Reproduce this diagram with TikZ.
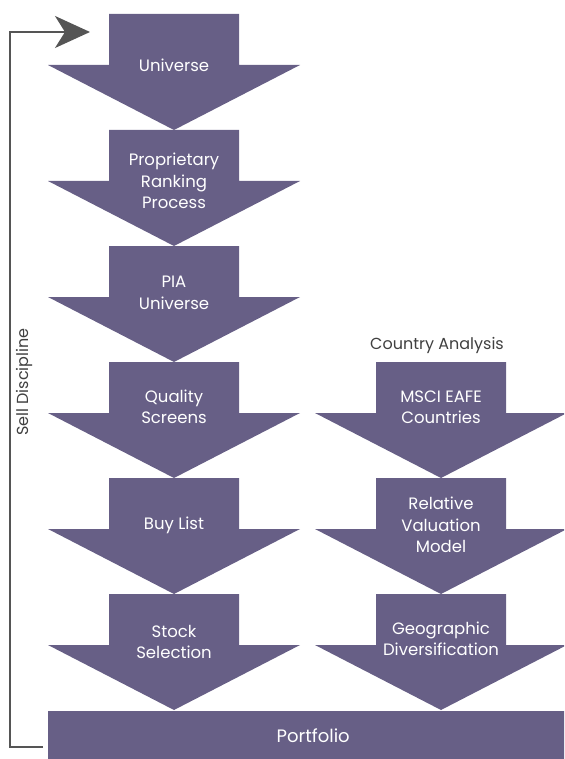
\documentclass[tikz,border=0pt]{standalone}
\usepackage{fontspec}
\setmainfont{Poppins}
\usetikzlibrary{arrows.meta}
\definecolor{flowfill}{HTML}{675F86}
\definecolor{sellgray}{HTML}{555555}
\definecolor{labelgray}{HTML}{404040}
\tikzset{
    flowarrow/.style={fill=flowfill, draw=none},
    flowtext/.style={text=white, align=center, font=\fontsize{16.5}{21.5}\selectfont},
    sellline/.style={draw=sellgray, line width=2, -{Stealth[length=35pt, width=32pt, inset=10pt]}},
    sidetext/.style={text=labelgray, font=\fontsize{16}{18}\selectfont}
}

\begin{document}
\begin{tikzpicture}[x=1pt, y=-1pt]
        \useasboundingbox (0, 0) rectangle (564, 759);
        \clip (0, 0) rectangle (564, 759);

        % stock column, centre line x = 174
        \foreach \t/\ty/\lbl [count=\i] in {14/51/Universe,
                130/51/{Proprietary\\Ranking\\Process},
                246/47/{PIA\\Universe},
                362/45/{Quality\\Screens},
                478/47/{Buy List},
                594/48/{Stock\\Selection}}{
            \fill[flowarrow] (174-65, \t) -- (174+65, \t)
            -- (174+65, \t+51) -- (174+126, \t+51)
            -- (174, \t+116)
            -- (174-126, \t+51) -- (174-65, \t+51) -- cycle;
            \node (left\i) [flowtext] at (174, \t+\ty) {\lbl};
        }

        % country column, centre line x = 441
        \foreach \t/\ty/\lbl [count=\i] in {362/45/{MSCI EAFE\\Countries},
                478/47/{Relative\\Valuation\\Model},
                594/45/{Geographic\\Diversification}}{
            \fill[flowarrow] (441-65, \t) -- (441+65, \t)
            -- (441+65, \t+51) -- (441+126, \t+51)
            -- (441, \t+116)
            -- (441-126, \t+51) -- (441-65, \t+51) -- cycle;
            \node (right\i) [flowtext] at (441, \t+\ty) {\lbl};
        }
        \node (country) [sidetext] at (437, 345) {Country Analysis};

        \node (portfolio) [flowarrow, anchor=north west, minimum width=530, minimum height=48,
            text=white, font=\fontsize{18}{20}\selectfont] at (48, 711) {Portfolio};

        % feedback loop back to the top
        \coordinate (sellfoot) at (43, 747);
        \coordinate (selltip) at (90, 32);
        \draw[sellline] (sellfoot) -- ++(-33, 0) |- (selltip);
        \node (sell) [sidetext, rotate=90] at (24, 382) {Sell Discipline};

    \end{tikzpicture}
\end{document}
